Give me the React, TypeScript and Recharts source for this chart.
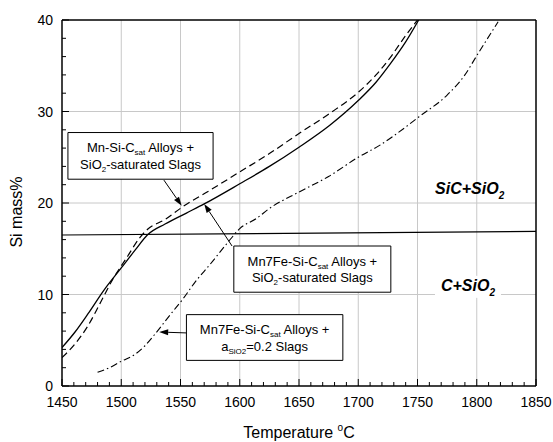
import { LineChart, Line, XAxis, YAxis, CartesianGrid, ReferenceLine, ReferenceArea, ReferenceDot } from "recharts";

const FONT = "'Liberation Sans', Arial, sans-serif";

const xMajorTicks = [1450, 1500, 1550, 1600, 1650, 1700, 1750, 1800, 1850];
const xMinorTicks = Array.from({ length: 41 }, (_, i) => 1450 + i * 10);
const yMajorTicks = [0, 10, 20, 30, 40];
const yMinorTicks = Array.from({ length: 21 }, (_, i) => i * 2);

// Mn-Si-Csat alloys + SiO2-saturated slags (dashed)
const mnSiTemp = [1450, 1461, 1472, 1482, 1493, 1505, 1515, 1522, 1537, 1552, 1575, 1600, 1625, 1650, 1676, 1700, 1715, 1727, 1740, 1750];
const mnSiSi = [3.1, 4.6, 6.6, 9.0, 11.7, 14.1, 16.1, 17.1, 18.2, 19.6, 21.4, 23.4, 25.4, 27.6, 29.8, 32.1, 34.0, 35.9, 38.3, 40];

// Mn7Fe-Si-Csat alloys + SiO2-saturated slags (solid)
const mn7FeTemp = [1450, 1461, 1472, 1485, 1500, 1512, 1522, 1537, 1555, 1570, 1600, 1625, 1650, 1676, 1700, 1715, 1727, 1740, 1751];
const mn7FeSi = [4.2, 5.9, 7.9, 10.4, 12.9, 14.9, 16.5, 17.7, 18.9, 19.9, 22.1, 24.0, 26.1, 28.5, 31.2, 33.2, 35.2, 37.6, 40];

// Mn7Fe-Si-Csat alloys + aSiO2=0.2 slags (dash-dot)
const mn7FeLowTemp = [1480, 1490, 1500, 1512, 1520, 1528, 1542, 1552, 1562, 1575, 1590, 1600, 1614, 1625, 1650, 1675, 1700, 1718, 1740, 1751, 1775, 1790, 1800, 1818];
const mn7FeLowSi = [1.5, 2.0, 2.7, 3.5, 4.4, 5.6, 7.9, 9.5, 11.3, 13.3, 15.7, 17.2, 18.3, 19.4, 21.2, 22.9, 25.0, 26.3, 28.3, 29.4, 31.8, 34.0, 36.1, 39.8];

// SiC / C boundary
const boundaryTemp = [1450, 1850];
const boundarySi = [16.5, 16.9];

const toPoints = (temps: number[], si: number[]) => temps.map((t, i) => ({ t, si: si[i] }));

const mnSiData = toPoints(mnSiTemp, mnSiSi);
const mn7FeData = toPoints(mn7FeTemp, mn7FeSi);
const mn7FeLowData = toPoints(mn7FeLowTemp, mn7FeLowSi);
const boundaryData = toPoints(boundaryTemp, boundarySi);

type Part = { t: string; sub?: boolean };

const boxes: { x1: number; x2: number; y1: number; y2: number; lines: Part[][] }[] = [
  {
    x1: 1455, x2: 1577.5, y1: 22.6, y2: 27.7,
    lines: [
      [{ t: "Mn-Si-C" }, { t: "sat", sub: true }, { t: " Alloys +" }],
      [{ t: "SiO" }, { t: "2", sub: true }, { t: "-saturated Slags" }],
    ],
  },
  {
    x1: 1595, x2: 1727.5, y1: 10.25, y2: 15.3,
    lines: [
      [{ t: "Mn7Fe-Si-C" }, { t: "sat", sub: true }, { t: " Alloys +" }],
      [{ t: "SiO" }, { t: "2", sub: true }, { t: "-saturated Slags" }],
    ],
  },
  {
    x1: 1555, x2: 1687, y1: 2.8, y2: 7.8,
    lines: [
      [{ t: "Mn7Fe-Si-C" }, { t: "sat", sub: true }, { t: " Alloys +" }],
      [{ t: "a" }, { t: "SiO2", sub: true }, { t: "=0.2 Slags" }],
    ],
  },
];

const arrows = [
  [{ x: 1536, y: 22.5 }, { x: 1551, y: 19.7 }],
  [{ x: 1593.5, y: 15.3 }, { x: 1570, y: 19.9 }],
  [{ x: 1555, y: 5.8 }, { x: 1532, y: 5.9 }],
];

function renderParts(parts: Part[]) {
  let shifted = false;
  return parts.map((p, i) => {
    let dy = 0;
    if (p.sub && !shifted) { dy = 3; shifted = true; }
    else if (!p.sub && shifted) { dy = -3; shifted = false; }
    return (
      <tspan key={i} dy={dy} fontSize={p.sub ? 8 : 13}>{p.t}</tspan>
    );
  });
}

function BoxText({ viewBox, lines }: any) {
  const { x, y, width, height } = viewBox;
  const cx = x + width / 2;
  const cy = y + height / 2;
  return (
    <g>
      {lines.map((ln: Part[], i: number) => (
        <text key={i} x={cx} y={cy - 3.5 + i * 16.5} textAnchor="middle" fontFamily={FONT} fontSize={13} fill="#000">
          {renderParts(ln)}
        </text>
      ))}
    </g>
  );
}

function Arrow(props: any) {
  const { x1, y1, x2, y2 } = props;
  const ang = Math.atan2(y2 - y1, x2 - x1);
  const len = 9;
  const half = 3;
  const bx = x2 - len * Math.cos(ang);
  const by = y2 - len * Math.sin(ang);
  const p1 = `${bx + half * Math.sin(ang)},${by - half * Math.cos(ang)}`;
  const p2 = `${bx - half * Math.sin(ang)},${by + half * Math.cos(ang)}`;
  return (
    <g>
      <line x1={x1} y1={y1} x2={bx} y2={by} stroke="#000" strokeWidth={1} />
      <polygon points={`${x2},${y2} ${p1} ${p2}`} fill="#000" />
    </g>
  );
}

function RegionLabel({ viewBox, main, tail, bg }: any) {
  const { x, y } = viewBox;
  return (
    <g>
      {bg && <rect x={x - 33} y={y - 15} width={66} height={22} fill="#fff" />}
      <text x={x} y={y} textAnchor="middle" fontFamily={FONT} fontSize={16} fontWeight="bold" fontStyle="italic" fill="#000">
        {main}
        <tspan dy={5} fontSize={10}>2</tspan>
      </text>
    </g>
  );
}

function XTick({ x, y, payload }: any) {
  const major = payload.value % 50 === 0;
  return (
    <g>
      <line x1={x} y1={y} x2={x} y2={y - (major ? 7 : 4)} stroke="#000" strokeWidth={1} />
      {major && (
        <text x={x} y={y + 21} textAnchor="middle" fontFamily={FONT} fontSize={14} fill="#000">
          {payload.value}
        </text>
      )}
    </g>
  );
}

function YTick({ x, y, payload }: any) {
  const major = payload.value % 10 === 0;
  return (
    <g>
      <line x1={x} y1={y} x2={x + (major ? 7 : 4)} y2={y} stroke="#000" strokeWidth={1} />
      {major && (
        <text x={x - 9} y={y + 5} textAnchor="end" fontFamily={FONT} fontSize={14} fill="#000">
          {payload.value}
        </text>
      )}
    </g>
  );
}

export default function App() {
  return (
    <div style={{ width: 553, height: 442, background: "#fff" }}>
      <style>{"body{margin:0}"}</style>
      <LineChart width={553} height={442} margin={{ top: 20, right: 17, bottom: 0, left: 2 }}>
        <CartesianGrid
          stroke="#c8c8c8"
          strokeWidth={1}
          verticalValues={xMajorTicks.slice(1, -1)}
          horizontalValues={yMajorTicks.slice(1, -1)}
        />
        <XAxis
          dataKey="t"
          type="number"
          domain={[1450, 1850]}
          ticks={xMinorTicks}
          interval={0}
          height={56}
          tickSize={0}
          tickMargin={0}
          tickLine={false}
          tick={(p: any) => <XTick {...p} />}
          axisLine={{ stroke: "#000", strokeWidth: 1.5 }}
          allowDataOverflow
          label={(p: any) => (
            <text x={299} y={437.5} textAnchor="middle" fontFamily={FONT} fontSize={16} fill="#000">
              Temperature <tspan dy={-7} fontSize={10}>o</tspan><tspan dy={7}>C</tspan>
            </text>
          )}
        />
        <YAxis
          type="number"
          domain={[0, 40]}
          ticks={yMinorTicks}
          interval={0}
          width={60}
          tickSize={0}
          tickMargin={0}
          tickLine={false}
          tick={(p: any) => <YTick {...p} />}
          axisLine={{ stroke: "#000", strokeWidth: 1.5 }}
          allowDataOverflow
          label={(p: any) => (
            <text x={22} y={212} transform="rotate(-90 22 212)" textAnchor="middle" fontFamily={FONT} fontSize={16} fill="#000">
              Si mass%
            </text>
          )}
        />
        <ReferenceLine y={40} stroke="#000" strokeWidth={1.5} />
        <ReferenceLine x={1850} stroke="#000" strokeWidth={1.5} />

        <Line data={boundaryData} dataKey="si" type="linear" stroke="#000" strokeWidth={1.2} dot={false} isAnimationActive={false} />
        <Line data={mnSiData} dataKey="si" type="monotone" stroke="#000" strokeWidth={1.2} strokeDasharray="7 4" dot={false} isAnimationActive={false} />
        <Line data={mn7FeData} dataKey="si" type="monotone" stroke="#000" strokeWidth={1.3} dot={false} isAnimationActive={false} />
        <Line data={mn7FeLowData} dataKey="si" type="monotone" stroke="#000" strokeWidth={1.1} strokeDasharray="7 3 1.5 3" dot={false} isAnimationActive={false} />

        {boxes.map((b, i) => (
          <ReferenceArea
            key={i}
            x1={b.x1}
            x2={b.x2}
            y1={b.y1}
            y2={b.y2}
            fill="#fff"
            fillOpacity={1}
            stroke="#000"
            strokeWidth={1}
            label={(p: any) => <BoxText viewBox={p.viewBox} lines={b.lines} />}
          />
        ))}
        {arrows.map((seg, i) => (
          <ReferenceLine key={i} segment={seg} shape={(p: any) => <Arrow {...p} />} />
        ))}
        <ReferenceDot x={1794} y={21} r={0} fill="none" stroke="none"
          label={(p: any) => <RegionLabel viewBox={p.viewBox} main="SiC+SiO" />} />
        <ReferenceDot x={1792.6} y={10.4} r={0} fill="none" stroke="none"
          label={(p: any) => <RegionLabel viewBox={p.viewBox} main="C+SiO" bg />} />
      </LineChart>
    </div>
  );
}
